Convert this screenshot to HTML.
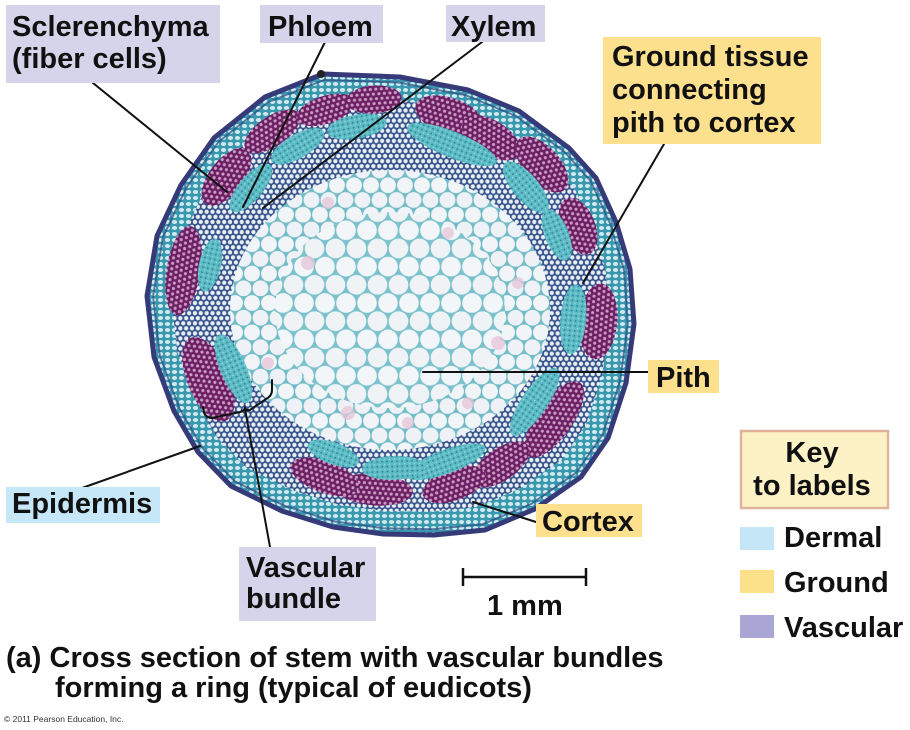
<!DOCTYPE html>
<html><head><meta charset="utf-8"><style>
html,body{margin:0;padding:0;background:#fff;}
svg{display:block;}
text{font-family:"Liberation Sans",Arial,sans-serif;}
.t{font-weight:bold;font-size:29px;fill:#111;}
</style></head><body>
<svg width="910" height="730" viewBox="0 0 910 730" xmlns="http://www.w3.org/2000/svg">
<defs>
<path id="ol" d="M-65,-229 L12,-226 L80,-213 L131,-192 L181,-155 L208,-125 L228,-81 L242,-34 L246,21 L238,80 L220,135 L193,174 L147,206 L97,227 L46,232 L-5,231 L-55,224 L-106,208 L-157,183 L-190,149 L-214,108 L-234,54 L-241,-7 L-231,-67 L-207,-118 L-174,-165 L-123,-206 Z"/>
<pattern id="pith" width="17" height="29.44" patternUnits="userSpaceOnUse">
<rect width="17" height="29.44" fill="#72bcc7"/>
<circle cx="0" cy="0" r="7.9" fill="#f1f5f7"/><circle cx="17" cy="0" r="7.9" fill="#f1f5f7"/>
<circle cx="8.5" cy="14.72" r="7.9" fill="#eef2f6"/>
<circle cx="0" cy="29.44" r="7.9" fill="#f1f5f7"/><circle cx="17" cy="29.44" r="7.9" fill="#f1f5f7"/>
</pattern>
<pattern id="pith2" width="21" height="36.37" patternUnits="userSpaceOnUse">
<rect width="21" height="36.37" fill="#7cc2cc"/>
<circle cx="0" cy="0" r="9.8" fill="#f2f6f8"/><circle cx="21" cy="0" r="9.8" fill="#f2f6f8"/>
<circle cx="10.5" cy="18.19" r="9.8" fill="#eff3f6"/>
<circle cx="0" cy="36.37" r="9.8" fill="#f2f6f8"/><circle cx="21" cy="36.37" r="9.8" fill="#f2f6f8"/>
</pattern>
<pattern id="mesh" width="6.5" height="11.26" patternUnits="userSpaceOnUse">
<rect width="6.5" height="11.26" fill="#34508a"/>
<circle cx="0" cy="0" r="2.4" fill="#e6eef2"/><circle cx="6.5" cy="0" r="2.4" fill="#e6eef2"/>
<circle cx="3.25" cy="5.63" r="2.4" fill="#e6eef2"/>
<circle cx="0" cy="11.26" r="2.4" fill="#e6eef2"/><circle cx="6.5" cy="11.26" r="2.4" fill="#e6eef2"/>
</pattern>
<pattern id="purp" width="5.5" height="9.52" patternUnits="userSpaceOnUse">
<rect width="5.5" height="9.52" fill="#6c1f63"/>
<circle cx="0" cy="0" r="1.6" fill="#c99ac2"/><circle cx="5.5" cy="0" r="1.6" fill="#c99ac2"/>
<circle cx="2.75" cy="4.76" r="1.6" fill="#c99ac2"/>
<circle cx="0" cy="9.52" r="1.6" fill="#c99ac2"/><circle cx="5.5" cy="9.52" r="1.6" fill="#c99ac2"/>
</pattern>
<pattern id="cortex" width="7" height="6" patternUnits="userSpaceOnUse">
<rect width="7" height="6" fill="#3a98ae"/>
<ellipse cx="3.5" cy="3" rx="2.6" ry="2" fill="#cfeaef"/>
</pattern>
<pattern id="phl" width="5" height="5" patternUnits="userSpaceOnUse">
<rect width="5" height="5" fill="#5cbcc5"/>
<circle cx="1.5" cy="1.5" r="0.9" fill="#2f7a90"/>
<circle cx="4" cy="3.8" r="0.7" fill="#a6dde2"/>
</pattern>
</defs>

<rect width="910" height="730" fill="#fff"/>

<!-- stem -->
<g transform="translate(388 303)">
<use href="#ol" fill="url(#cortex)" stroke="#363a78" stroke-width="5" stroke-linejoin="round"/>
<use href="#ol" transform="scale(0.975)" fill="none" stroke="#2d4a82" stroke-width="2" opacity="0.7"/>
<use href="#ol" transform="scale(0.9)" fill="url(#mesh)"/>
<ellipse cx="2" cy="7" rx="160" ry="140" fill="url(#pith)"/>
<ellipse cx="2" cy="7" rx="115" ry="98" fill="url(#pith2)"/>
<g fill="#e6c4da" opacity="0.75">
<circle cx="-80" cy="-40" r="7"/><circle cx="60" cy="-70" r="6"/><circle cx="110" cy="40" r="7"/>
<circle cx="-40" cy="110" r="7"/><circle cx="20" cy="120" r="6"/><circle cx="-120" cy="60" r="6"/>
<circle cx="130" cy="-20" r="6"/><circle cx="-60" cy="-100" r="6"/><circle cx="80" cy="100" r="6"/>
</g>
<!-- sclerenchyma caps -->
<g fill="url(#purp)">
<ellipse cx="0" cy="-205" rx="34" ry="17" transform="rotate(-52)"/>
<ellipse cx="0" cy="-207" rx="32" ry="15" transform="rotate(-34)"/>
<ellipse cx="0" cy="-203" rx="30" ry="14" transform="rotate(-18)"/>
<ellipse cx="0" cy="-204" rx="28" ry="14" transform="rotate(-4)"/>
<ellipse cx="0" cy="-197" rx="35" ry="18" transform="rotate(18)"/>
<ellipse cx="0" cy="-195" rx="33" ry="17" transform="rotate(32)"/>
<ellipse cx="0" cy="-207" rx="34" ry="18" transform="rotate(48)"/>
<ellipse cx="0" cy="-205" rx="30" ry="17" transform="rotate(68)"/>
<ellipse cx="0" cy="-211" rx="38" ry="19" transform="rotate(95)"/>
<ellipse cx="0" cy="-203" rx="45" ry="18" transform="rotate(125)"/>
<ellipse cx="0" cy="-197" rx="33" ry="16" transform="rotate(145)"/>
<ellipse cx="0" cy="-193" rx="33" ry="16" transform="rotate(160)"/>
<ellipse cx="0" cy="-187" rx="38" ry="16" transform="rotate(184)"/>
<ellipse cx="0" cy="-185" rx="36" ry="16" transform="rotate(200)"/>
<ellipse cx="0" cy="-195" rx="45" ry="21" transform="rotate(-113)"/>
<ellipse cx="0" cy="-207" rx="45" ry="17" transform="rotate(-81)"/>
</g>
<!-- phloem -->
<g fill="url(#phl)">
<ellipse cx="0" cy="-179" rx="30" ry="12" transform="rotate(-50)"/>
<ellipse cx="0" cy="-181" rx="30" ry="12" transform="rotate(-30)"/>
<ellipse cx="0" cy="-179" rx="30" ry="12" transform="rotate(-10)"/>
<ellipse cx="0" cy="-171" rx="48" ry="13" transform="rotate(22)"/>
<ellipse cx="0" cy="-180" rx="32" ry="13" transform="rotate(50)"/>
<ellipse cx="0" cy="-182" rx="27" ry="12" transform="rotate(68)"/>
<ellipse cx="0" cy="-186" rx="35" ry="13" transform="rotate(95)"/>
<ellipse cx="0" cy="-177" rx="40" ry="13" transform="rotate(124)"/>
<ellipse cx="0" cy="-169" rx="42" ry="12" transform="rotate(160)"/>
<ellipse cx="0" cy="-165" rx="32" ry="12" transform="rotate(178)"/>
<ellipse cx="0" cy="-160" rx="27" ry="11" transform="rotate(200)"/>
<ellipse cx="0" cy="-168" rx="37" ry="13" transform="rotate(-113)"/>
<ellipse cx="0" cy="-182" rx="27" ry="11" transform="rotate(-78)"/>
</g>
<circle cx="-67" cy="-229" r="4" fill="#222"/>
</g>

<!-- leader lines -->
<g stroke="#111" stroke-width="2" fill="none" stroke-linecap="round">
<line x1="93" y1="83" x2="227" y2="192"/>
<line x1="325" y1="42" x2="243" y2="207"/>
<line x1="482" y1="42" x2="263" y2="208"/>
<line x1="664" y1="144" x2="583" y2="283"/>
<line x1="423" y1="372" x2="648" y2="372"/>
<line x1="82" y1="488" x2="200" y2="446"/>
<line x1="473" y1="502" x2="536" y2="522"/>
<path d="M203,407 Q204,418 212,418 L240,412 Q244,411 245,408 Q246,411 250,410 L266,399 Q272,396 272,390 L272,380"/>
<line x1="245" y1="409" x2="270" y2="547"/>
</g>

<!-- labels -->
<rect x="6" y="5" width="214" height="78" fill="#d6d4ea"/>
<text class="t" x="12" y="36">Sclerenchyma</text>
<text class="t" x="12" y="68">(fiber cells)</text>

<rect x="260" y="5" width="123" height="38" fill="#d6d4ea"/>
<text class="t" x="268" y="36">Phloem</text>

<rect x="446" y="5" width="99" height="37" fill="#d6d4ea"/>
<text class="t" x="451" y="36">Xylem</text>

<rect x="603" y="37" width="218" height="107" fill="#fde08e"/>
<text class="t" x="612" y="66">Ground tissue</text>
<text class="t" x="612" y="99">connecting</text>
<text class="t" x="612" y="132">pith to cortex</text>

<rect x="648" y="360" width="71" height="33" fill="#fde08e"/>
<text class="t" x="656" y="387">Pith</text>

<rect x="536" y="504" width="106" height="33" fill="#fde08e"/>
<text class="t" x="542" y="531">Cortex</text>

<rect x="6" y="487" width="154" height="36" fill="#c6e7f8"/>
<text class="t" x="12" y="513">Epidermis</text>

<rect x="239" y="547" width="137" height="74" fill="#d6d4ea"/>
<text class="t" x="246" y="577">Vascular</text>
<text class="t" x="246" y="608">bundle</text>

<!-- key -->
<rect x="741" y="431" width="147" height="77" fill="#fdf1c6" stroke="#e0b39a" stroke-width="2.5"/>
<text class="t" x="812" y="462" text-anchor="middle">Key</text>
<text class="t" x="812" y="495" text-anchor="middle">to labels</text>
<rect x="740" y="527" width="34" height="23" fill="#c4e6f6"/>
<text class="t" x="784" y="547">Dermal</text>
<rect x="740" y="570" width="34" height="23" fill="#fde08a"/>
<text class="t" x="784" y="592">Ground</text>
<rect x="740" y="615" width="34" height="23" fill="#aaa6d4"/>
<text class="t" x="784" y="637">Vascular</text>

<!-- scale bar -->
<g stroke="#111" stroke-width="2.5">
<line x1="462" y1="577" x2="587" y2="577"/>
<line x1="463" y1="568" x2="463" y2="586"/>
<line x1="586" y1="568" x2="586" y2="586"/>
</g>
<text class="t" x="487" y="615">1 mm</text>

<!-- caption -->
<text class="t" x="6" y="667">(a) Cross section of stem with vascular bundles</text>
<text class="t" x="55" y="697">forming a ring (typical of eudicots)</text>
<text x="4" y="722" font-size="8.5" fill="#333">© 2011 Pearson Education, Inc.</text>
</svg>
</body></html>
